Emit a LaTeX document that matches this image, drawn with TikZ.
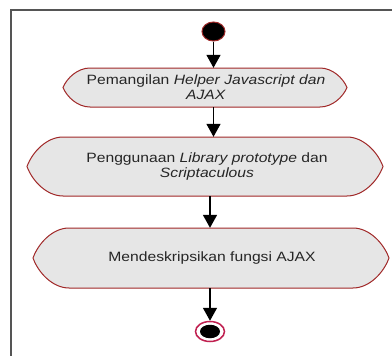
\documentclass[tikz,border=0pt]{standalone}
\usepackage{fontspec}
\setmainfont{Liberation Sans}
\newfontfamily\diafont[FakeStretch=1.16]{Liberation Sans}
\usetikzlibrary{arrows.meta,calc,shapes.geometric}

\definecolor{boxred}{HTML}{A02828}
\definecolor{boxgray}{HTML}{E6E6E6}
\definecolor{ringred}{HTML}{C02050}
\definecolor{framegray}{HTML}{555555}

% rounded-end activity shape: left, top, right, bottom, cap width
\newcommand\actshape[5]{%
  \filldraw[actline]
    (#1,{(#2+#4)/2})
    .. controls ({#1+0.15*#5},{(#2+#4)/2-0.5*(#4-#2)/2}) and ({#1+0.55*#5},#2) .. ({#1+#5},#2)
    -- ({#3-#5},#2)
    .. controls ({#3-0.55*#5},#2) and ({#3-0.15*#5},{(#2+#4)/2-0.5*(#4-#2)/2}) .. (#3,{(#2+#4)/2})
    .. controls ({#3-0.15*#5},{(#2+#4)/2+0.5*(#4-#2)/2}) and ({#3-0.55*#5},#4) .. ({#3-#5},#4)
    -- ({#1+#5},#4)
    .. controls ({#1+0.55*#5},#4) and ({#1+0.15*#5},{(#2+#4)/2+0.5*(#4-#2)/2}) .. cycle;}

\tikzset{
  actline/.style={draw=boxred, fill=boxgray, line width=1pt},
  acttext/.style={inner sep=0pt, align=center, text=black!85,
    font=\diafont\fontsize{13.5}{15}\selectfont},
  flow/.style={draw=black, line width=1.5pt,
    -{Triangle[length=13pt,width=14pt]}},
  frameline/.style={draw=framegray, line width=1.5pt},
}

\begin{document}
\begin{tikzpicture}[x=1pt,y=-1pt]
\useasboundingbox (0,0) rectangle (392,356);

% swimlane frame edges
\draw[frameline] (11,356) -- (11,10) -- (392,10);

% activity shapes
\actshape{63}{68}{347}{107}{27}
\actshape{27}{137}{383}{196}{36}
\actshape{33}{228}{389}{288}{36}

% activity labels (named for the connectors)
\node[acttext, minimum width=284pt, minimum height=39pt] (b1) at (206,87.5)
  {Pemangilan \textit{Helper Javascript dan}\\\textit{AJAX}};
\node[acttext, minimum width=356pt, minimum height=59pt] (b2) at (207,166.5)
  {Penggunaan \textit{Library prototype} dan\\\textit{Scriptaculous}};
\node[acttext, minimum width=356pt, minimum height=60pt] (b3) at (212,258)
  {Mendeskripsikan fungsi AJAX};

% initial node
\node[ellipse, draw=boxred, fill=black, line width=1pt,
      minimum width=23pt, minimum height=19pt, inner sep=0pt] (st) at (213.5,31.5) {};

% final node
\node[ellipse, draw=ringred, line width=1.5pt, fill=white,
      minimum width=29pt, minimum height=20pt, inner sep=0pt] (en) at (210,331.5) {};
\node[ellipse, fill=black, minimum width=20pt, minimum height=13.5pt, inner sep=0pt] (enin) at (en.center) {};

% control flow
\draw[flow] (st) -- (st |- b1.north);
\draw[flow] (b1.south -| st) -- (b2.north -| st);
\draw[flow] (b2.south -| en) -- (b3.north -| en);
\draw[flow] (b3.south -| en) -- (en.north);
\end{tikzpicture}
\end{document}
